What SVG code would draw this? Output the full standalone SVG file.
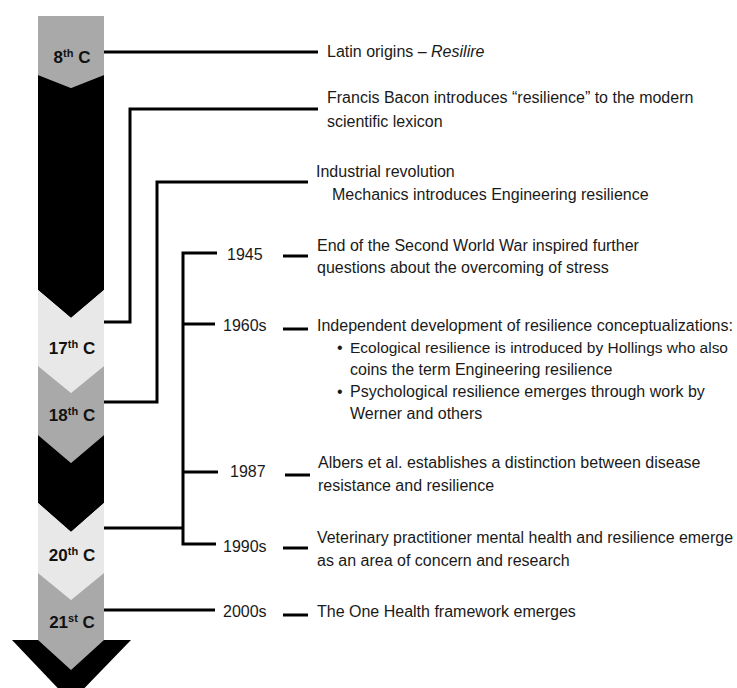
<svg xmlns="http://www.w3.org/2000/svg" width="737" height="688" viewBox="0 0 737 688">
<style>
.t{font-family:"Liberation Sans",Arial,sans-serif;font-size:16px;fill:#1a1a1a}
.c{font-family:"Liberation Sans",Arial,sans-serif;font-size:17px;font-weight:bold;fill:#111;text-anchor:middle}
.sup{font-size:11px}
.ln{fill:none;stroke:#000;stroke-width:3}
.dash{stroke:#000;stroke-width:3}
.g{fill:#a9a9a9}
.l{fill:#e8e8e8}
.k{fill:#000}
</style>
<rect width="737" height="688" fill="#fff"/>
<g id="timeline-arrow">
<polygon class="k" points="12,640 131,640 71,702"/>
<polygon class="g" points="38,16 104,16 104,75 71,88 38,75"/>
<polygon class="k" points="38,75 71,88 104,75 104,290 71,318 38,290"/>
<polygon class="l" points="38,290 71,318 104,290 104,366 71,393 38,366"/>
<polygon class="g" points="38,366 71,393 104,366 104,435 71,463 38,435"/>
<polygon class="k" points="38,435 71,463 104,435 104,503 71,532 38,503"/>
<polygon class="l" points="38,503 71,532 104,503 104,573 71,600 38,573"/>
<polygon class="g" points="38,573 71,600 104,573 104,640 71,670 38,640"/>
</g>
<g id="c8"><text class="c" x="72" y="63">8<tspan class="sup" dy="-6">th</tspan><tspan dy="6"> C</tspan></text></g>
<g id="c17"><text class="c" x="72" y="354">17<tspan class="sup" dy="-6">th</tspan><tspan dy="6"> C</tspan></text></g>
<g id="c18"><text class="c" x="72" y="421">18<tspan class="sup" dy="-6">th</tspan><tspan dy="6"> C</tspan></text></g>
<g id="c20"><text class="c" x="72" y="561">20<tspan class="sup" dy="-6">th</tspan><tspan dy="6"> C</tspan></text></g>
<g id="c21"><text class="c" x="72" y="628">21<tspan class="sup" dy="-6">st</tspan><tspan dy="6"> C</tspan></text></g>
<g id="connectors">
<line class="ln" x1="104" y1="52" x2="318" y2="52"/>
<polyline class="ln" points="104,322 130,322 130,109 318,109"/>
<polyline class="ln" points="104,402 157,402 157,182 308,182"/>
<line class="ln" x1="104" y1="528" x2="183" y2="528"/>
<polyline class="ln" points="217,253 183,253 183,544 216,544"/>
<line class="ln" x1="183" y1="324" x2="215" y2="324"/>
<line class="ln" x1="183" y1="472" x2="218" y2="472"/>
<line class="ln" x1="104" y1="610" x2="215" y2="610"/>
<line class="dash" x1="283" y1="256" x2="308" y2="256"/>
<line class="dash" x1="283" y1="329" x2="308" y2="329"/>
<line class="dash" x1="285" y1="475" x2="310" y2="475"/>
<line class="dash" x1="283" y1="548" x2="308" y2="548"/>
<line class="dash" x1="283" y1="615" x2="308" y2="615"/>
</g>
<g id="e-latin"><text class="t" x="327" y="57">Latin origins – <tspan font-style="italic">Resilire</tspan></text></g>
<g id="e-bacon"><text class="t" x="327" y="103">Francis Bacon introduces “resilience” to the modern</text><text class="t" x="327" y="127">scientific lexicon</text></g>
<g id="e-industrial"><text class="t" x="316" y="177">Industrial revolution</text><text class="t" x="332" y="200">Mechanics introduces Engineering resilience</text></g>
<g id="y1945"><text class="t" x="227" y="260">1945</text></g>
<g id="e-1945"><text class="t" x="317" y="251">End of the Second World War inspired further</text><text class="t" x="317" y="273">questions about the overcoming of stress</text></g>
<g id="y1960s"><text class="t" x="223" y="331">1960s</text></g>
<g id="e-1960s">
<text class="t" x="317" y="331" textLength="416" lengthAdjust="spacingAndGlyphs">Independent development of resilience conceptualizations:</text>
<text class="t" x="337" y="353">•</text><text class="t" x="350" y="353" style="font-size:15.2px" textLength="378" lengthAdjust="spacingAndGlyphs">Ecological resilience is introduced by Hollings who also</text>
<text class="t" x="350" y="375">coins the term Engineering resilience</text>
<text class="t" x="337" y="397">•</text><text class="t" x="350" y="397">Psychological resilience emerges through work  by</text>
<text class="t" x="350" y="419">Werner and others</text>
</g>
<g id="y1987"><text class="t" x="230" y="477">1987</text></g>
<g id="e-1987"><text class="t" x="318" y="468">Albers et al. establishes a distinction between disease</text><text class="t" x="318" y="491">resistance and resilience</text></g>
<g id="y1990s"><text class="t" x="223" y="552">1990s</text></g>
<g id="e-1990s"><text class="t" x="317" y="543" textLength="416" lengthAdjust="spacingAndGlyphs">Veterinary practitioner mental health and resilience emerge</text><text class="t" x="317" y="566">as an area of concern and research</text></g>
<g id="y2000s"><text class="t" x="223" y="617">2000s</text></g>
<g id="e-2000s"><text class="t" x="317" y="617">The One Health framework emerges</text></g>
</svg>
